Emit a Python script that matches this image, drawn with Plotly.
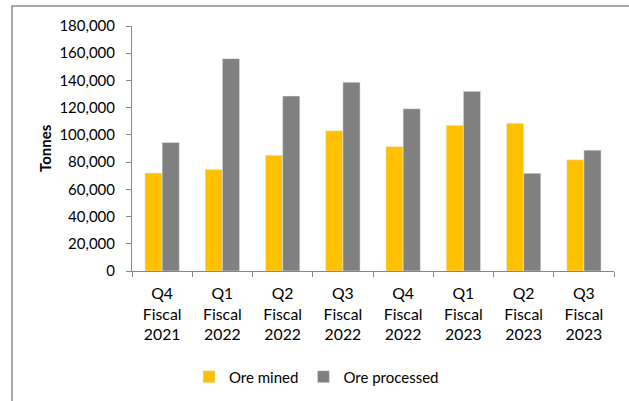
import plotly.graph_objects as go

categories = ["Q4<br>Fiscal<br>2021", "Q1<br>Fiscal<br>2022", "Q2<br>Fiscal<br>2022", "Q3<br>Fiscal<br>2022",
              "Q4<br>Fiscal<br>2022", "Q1<br>Fiscal<br>2023", "Q2<br>Fiscal<br>2023", "Q3<br>Fiscal<br>2023"]
ore_mined = [72000, 74500, 85000, 103000, 91500, 107000, 108500, 81700]
ore_processed = [94500, 156000, 128500, 138700, 119200, 132000, 71800, 88800]
y_ticks = [0, 20000, 40000, 60000, 80000, 100000, 120000, 140000, 160000, 180000]

W, H = 629, 401
L, R, T, B = 132, 15, 26, 130
pw, ph = W - L - R, H - T - B

font = dict(family="Lato, Noto Sans, sans-serif", size=15, color="#000000")
xfont = dict(family="Lato, Noto Sans, sans-serif", size=15.8, color="#000000")

fig = go.Figure()
fig.add_trace(go.Bar(name="Ore mined", x=categories, y=ore_mined, marker_color="#FFC000"))
fig.add_trace(go.Bar(name="Ore processed", x=categories, y=ore_processed, marker_color="#808080"))

def px_x(p):
    return (p - L) / pw

def px_y(p):
    return (H - B - p) / ph

fig.update_layout(
    width=W, height=H,
    margin=dict(l=L, r=R, t=T, b=B, autoexpand=False),
    paper_bgcolor="white", plot_bgcolor="white",
    font=font,
    barmode="group", bargap=0.43, bargroupgap=0,
    showlegend=True,
    legend=dict(orientation="h", x=px_x(189), xanchor="left", y=px_y(377), yanchor="middle",
                font=font, itemwidth=30, traceorder="normal"),
    xaxis=dict(showline=True, linecolor="#868686", linewidth=1, ticks="outside", tickson="boundaries",
               ticklen=5, tickcolor="#868686", showgrid=False, tickfont=xfont, ticklabelstandoff=8),
    yaxis=dict(range=[0, 180000], tickvals=y_ticks, tickformat=",", showline=True, linecolor="#868686",
               linewidth=1, ticks="outside", ticklen=5, tickcolor="#868686", showgrid=False, tickfont=font,
               zeroline=False, ticklabelstandoff=8),
    annotations=[dict(text="<b>Tonnes</b>", xref="paper", yref="paper", x=px_x(45), y=px_y(148),
                      xanchor="center", yanchor="middle", textangle=-90, showarrow=False, font=font)],
    shapes=[dict(type="rect", xref="paper", yref="paper", x0=px_x(12), x1=px_x(700), y0=px_y(500), y1=px_y(6),
                 line=dict(color="#8c8c8c", width=1.5), layer="above")],
)

fig.write_html("out.html", config={"displayModeBar": False},
               post_script="document.body.style.margin='0px';")
